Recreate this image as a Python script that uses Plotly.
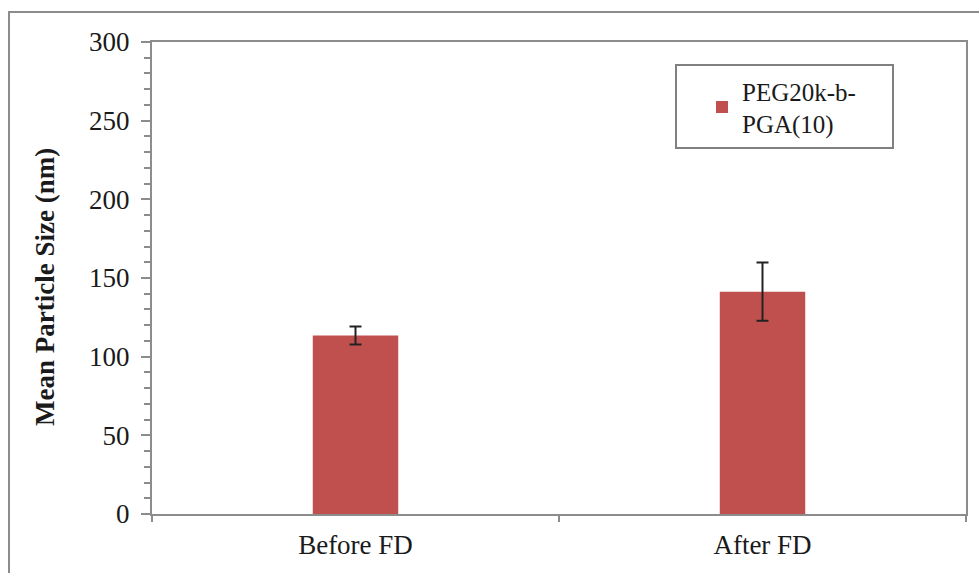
import plotly.graph_objects as go

categories = ["Before FD", "After FD"]
mean_size = [113.5, 141.3]
error = [5.7, 18.5]
series_name = "PEG20k-b-<br>PGA(10)"
y_title = "Mean Particle Size (nm)"

W, H = 979, 573
L, R, T, B = 152, 13, 42, 59
pw, ph = W - L - R, H - T - B

def px_x(p):
    return (p - L) / pw

def px_y(p):
    return (H - B - p) / ph

fig = go.Figure()
fig.add_trace(go.Bar(
    x=categories, y=mean_size, name=series_name,
    marker=dict(color="#C0504D", line=dict(width=0)),
    width=0.21,
    error_y=dict(type="data", array=error, visible=True, color="#222222", thickness=2, width=6),
    showlegend=True,
))

font = "Liberation Serif, Times New Roman, serif"
fs = 27
fig.update_layout(
    width=W, height=H,
    margin=dict(l=L, r=R, t=T, b=B),
    paper_bgcolor="white", plot_bgcolor="white",
    font=dict(family=font, size=fs, color="#1a1a1a"),
    showlegend=True,
    legend=dict(
        x=px_x(702), y=px_y(68), xanchor="left", yanchor="top",
        borderwidth=0, bgcolor="rgba(0,0,0,0)",
        font=dict(family=font, size=25, color="#1a1a1a"),
        itemwidth=30,
    ),
    xaxis=dict(
        showline=True, linecolor="#8c8c8c", linewidth=2, mirror=True,
        ticks="outside", tickson="boundaries", ticklen=6, tickcolor="#8c8c8c", tickwidth=2,
        tickfont=dict(family=font, size=fs), ticklabelstandoff=6,
        showgrid=False,
    ),
    yaxis=dict(
        range=[0, 300], dtick=50, tick0=0,
        showline=True, linecolor="#8c8c8c", linewidth=2, mirror=True,
        ticks="outside", ticklen=9, tickcolor="#8c8c8c", tickwidth=2,
        minor=dict(dtick=10, ticks="outside", ticklen=6, tickcolor="#8c8c8c", tickwidth=2, showgrid=False),
        tickfont=dict(family=font, size=fs), ticklabelstandoff=6,
        showgrid=False, zeroline=False,
    ),
    annotations=[dict(
        text="<b>" + y_title + "</b>", textangle=-90, showarrow=False,
        xref="paper", yref="paper", x=px_x(45), y=px_y(287),
        xanchor="center", yanchor="middle",
        font=dict(family=font, size=fs, color="#1a1a1a"),
    )],
    shapes=[
        dict(type="rect", xref="paper", yref="paper",
             x0=px_x(9), x1=1.2, y0=-0.3, y1=px_y(12),
             line=dict(color="#8c8c8c", width=2), fillcolor="rgba(0,0,0,0)", layer="below"),
        dict(type="rect", xref="paper", yref="paper",
             x0=px_x(676), x1=px_x(893), y0=px_y(148), y1=px_y(65),
             line=dict(color="#808080", width=2), fillcolor="white", layer="above"),
    ],
)

fig.write_html("out.html", config={"displayModeBar": False},
               post_script="document.body.style.margin='0';document.body.style.padding='0';")
